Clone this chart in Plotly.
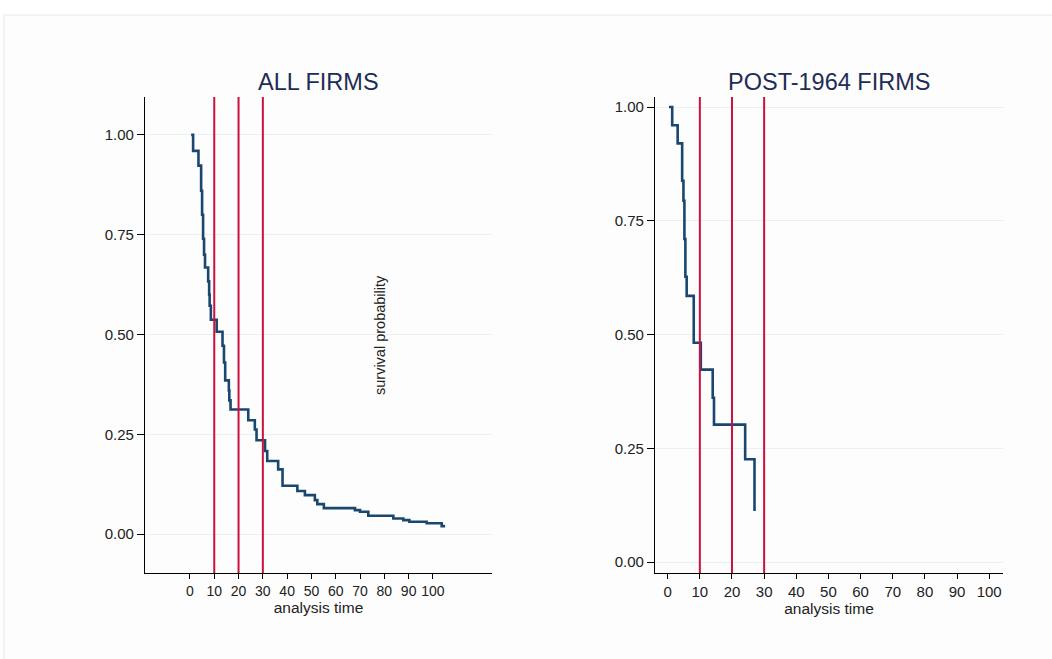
import plotly.graph_objects as go

# ---- data ----
all_time = [0.5, 1.3, 3.5, 4.6, 5.0, 5.4, 5.8, 6.2, 7.5, 7.9, 8.1, 8.6, 11.0, 13.4, 14.0,
            14.5, 16.0, 16.2, 16.7, 24.0, 26.7, 27.4, 30.9, 31.8, 36.3, 38.1, 44.2, 47.3,
            51.4, 52.4, 55.1, 67.9, 70.0, 73.4, 83.7, 87.8, 90.3, 97.4, 103.6, 105.0]
all_surv = [1.0, 0.96, 0.923, 0.86, 0.80, 0.74, 0.70, 0.668, 0.633, 0.60, 0.572, 0.537,
            0.507, 0.472, 0.43, 0.385, 0.36, 0.335, 0.312, 0.285, 0.262, 0.235, 0.208,
            0.183, 0.162, 0.121, 0.108, 0.0975, 0.085, 0.075, 0.065, 0.06, 0.056, 0.046,
            0.039, 0.035, 0.031, 0.027, 0.02, 0.02]

post_time = [0.4, 1.4, 3.1, 4.5, 4.9, 5.2, 5.5, 5.9, 8.1, 10.3, 14.0, 14.4, 24.1, 27.0]
post_surv = [1.0, 0.96, 0.92, 0.838, 0.794, 0.71, 0.627, 0.585, 0.482, 0.423, 0.361,
             0.302, 0.226, 0.1125]

cutoffs = [10, 20, 30]
x_ticks = [0, 10, 20, 30, 40, 50, 60, 70, 80, 90, 100]
y_ticks = [0, 0.25, 0.5, 0.75, 1.0]
y_labels = ["0.00", "0.25", "0.50", "0.75", "1.00"]
titles = ["ALL FIRMS", "POST-1964 FIRMS"]

W, H = 1052, 659
NAVY = "#1a476f"
RED = "#cc1141"
GRID = "#e9f1f3"
FONT = "Liberation Sans, Arial, sans-serif"
TXT = "#222"


def xaxis_opts(size):
    return dict(showline=True, linecolor="black", linewidth=1.3, ticks="outside",
                ticklen=5, tickcolor="black", tickvals=x_ticks, tickangle=0,
                showgrid=False, zeroline=False,
                tickfont=dict(family=FONT, size=size, color=TXT),
                title=dict(text="analysis time",
                           font=dict(family=FONT, size=15.5, color=TXT), standoff=0))


common_y = dict(showline=True, linecolor="black", linewidth=1.3, ticks="outside",
                ticklen=7, tickcolor="black", tickvals=y_ticks, ticktext=y_labels,
                showgrid=True, gridcolor=GRID, gridwidth=1, zeroline=False,
                tickfont=dict(family=FONT, size=15, color=TXT))

fig = go.Figure()
fig.add_trace(go.Scatter(x=all_time, y=all_surv, mode="lines", line_shape="hv",
                         line=dict(color=NAVY, width=2.6), xaxis="x", yaxis="y",
                         showlegend=False, hoverinfo="skip"))
fig.add_trace(go.Scatter(x=post_time, y=post_surv, mode="lines", line_shape="hv",
                         line=dict(color=NAVY, width=2.6), xaxis="x2", yaxis="y2",
                         showlegend=False, hoverinfo="skip"))

ydom = [1 - 573 / H, 1 - 97 / H]
xdom1 = [145 / W, 492 / W]
xdom2 = [655 / W, 1003 / W]

fig.update_layout(
    width=W, height=H,
    margin=dict(l=0, r=0, t=0, b=0),
    paper_bgcolor="white", plot_bgcolor="rgba(0,0,0,0)",
    xaxis=dict(domain=xdom1, range=[-18.5, 124.3], anchor="y", **xaxis_opts(14)),
    yaxis=dict(domain=ydom, range=[-0.0975, 1.095], anchor="x", **common_y),
    xaxis2=dict(domain=xdom2, range=[-3.95, 104.3], anchor="y2", **xaxis_opts(15)),
    yaxis2=dict(domain=ydom, range=[-0.024, 1.022], anchor="x2", **common_y),
)

# faint outer frame
fig.add_shape(type="rect", xref="paper", yref="paper", x0=4 / W, x1=1.01,
              y0=-0.01, y1=1 - 15 / H, line=dict(color="#e6eaea", width=1),
              fillcolor="#fdfdfd", layer="below")

# vertical cutoff lines
for xr, yr in (("x", "y domain"), ("x2", "y2 domain")):
    for c in cutoffs:
        fig.add_shape(type="line", xref=xr, yref=yr, x0=c, x1=c, y0=0, y1=1,
                      line=dict(color=RED, width=2), layer="above")

# panel titles
for dom, t in zip((xdom1, xdom2), titles):
    fig.add_annotation(text=t, xref="paper", yref="paper", x=(dom[0] + dom[1]) / 2,
                       y=1 - 82 / H, showarrow=False, xanchor="center", yanchor="middle",
                       font=dict(family=FONT, size=23.5, color="#1e2d55"))

# misplaced y-axis label inside left panel
fig.add_annotation(text="survival probability", xref="paper", yref="paper",
                   x=380 / W, y=1 - 335 / H, textangle=-90, showarrow=False,
                   xanchor="center", yanchor="middle",
                   font=dict(family=FONT, size=14.5, color=TXT))

fig.write_html("out.html")
